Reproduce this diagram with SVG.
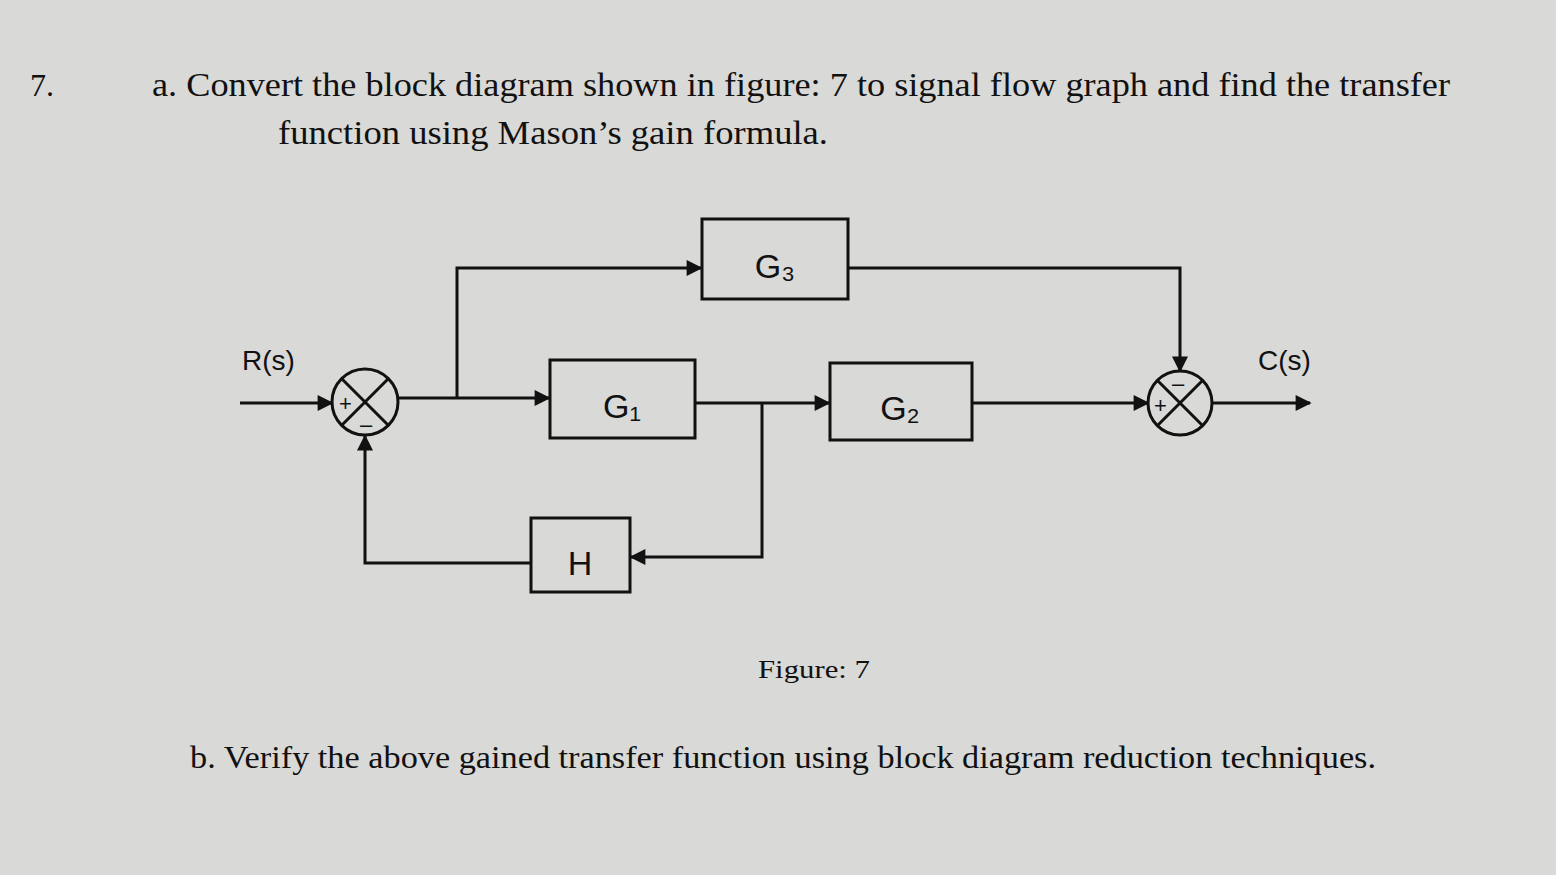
<svg xmlns="http://www.w3.org/2000/svg" width="1556" height="875" viewBox="0 0 1556 875">
<defs>
<marker id="ah" viewBox="0 0 10 10" refX="9" refY="5" markerWidth="18" markerHeight="16" orient="auto" markerUnits="userSpaceOnUse"><path d="M0,0 L10,5 L0,10 z" fill="#111"/></marker>
<style>
.ln{stroke:#111;stroke-width:3;fill:none}
.bx{stroke:#111;stroke-width:3;fill:none}
.t{font-family:"Liberation Serif",serif;fill:#111}
.h{font-family:"Liberation Sans",sans-serif;fill:#111}
</style>
</defs>
<rect width="1556" height="875" fill="#d9d9d7"/>
<text class="t" x="30" y="96" font-size="32">7.</text>
<text class="t" x="152" y="96" font-size="33" textLength="1298" lengthAdjust="spacingAndGlyphs">a. Convert the block diagram shown in figure: 7 to signal flow graph and find the transfer</text>
<text class="t" x="278" y="144" font-size="33" textLength="550" lengthAdjust="spacingAndGlyphs">function using Mason’s gain formula.</text>
<text class="t" x="758" y="678" font-size="26" textLength="112" lengthAdjust="spacingAndGlyphs">Figure: 7</text>
<text class="t" x="190" y="768" font-size="31" textLength="1186" lengthAdjust="spacingAndGlyphs">b. Verify the above gained transfer function using block diagram reduction techniques.</text>
<g id="connectors">
<path class="ln" d="M240,403 H332" marker-end="url(#ah)"/>
<path class="ln" d="M398,398 H549" marker-end="url(#ah)"/>
<path class="ln" d="M457,398 V268 H701" marker-end="url(#ah)"/>
<path class="ln" d="M848,268 H1180 V371" marker-end="url(#ah)"/>
<path class="ln" d="M695,403 H829" marker-end="url(#ah)"/>
<path class="ln" d="M762,403 V557 H631" marker-end="url(#ah)"/>
<path class="ln" d="M531,563 H365 V436" marker-end="url(#ah)"/>
<path class="ln" d="M972,403 H1148" marker-end="url(#ah)"/>
<path class="ln" d="M1212,403 H1310" marker-end="url(#ah)"/>
</g>
<g id="sum1">
<circle class="bx" cx="365" cy="402" r="33"/>
<path class="ln" d="M342,379 L388,425 M388,379 L342,425"/>
<text class="h" x="339" y="411" font-size="22">+</text>
<text class="h" x="360" y="432" font-size="22">–</text>
</g>
<g id="sum2">
<circle class="bx" cx="1180" cy="403" r="32"/>
<path class="ln" d="M1157,380 L1203,426 M1203,380 L1157,426"/>
<text class="h" x="1154" y="413" font-size="22">+</text>
<text class="h" x="1172" y="391" font-size="22">–</text>
</g>
<g id="G3"><rect class="bx" x="702" y="219" width="146" height="80"/><text class="h" x="775" y="278" font-size="34" text-anchor="middle">G₃</text></g>
<g id="G1"><rect class="bx" x="550" y="360" width="145" height="78"/><text class="h" x="622" y="418" font-size="34" text-anchor="middle">G₁</text></g>
<g id="G2"><rect class="bx" x="830" y="363" width="142" height="77"/><text class="h" x="900" y="420" font-size="34" text-anchor="middle">G₂</text></g>
<g id="H"><rect class="bx" x="531" y="518" width="99" height="74"/><text class="h" x="580" y="575" font-size="34" text-anchor="middle">H</text></g>
<text class="h" x="242" y="370" font-size="28">R(s)</text>
<text class="h" x="1258" y="370" font-size="28">C(s)</text>
</svg>
